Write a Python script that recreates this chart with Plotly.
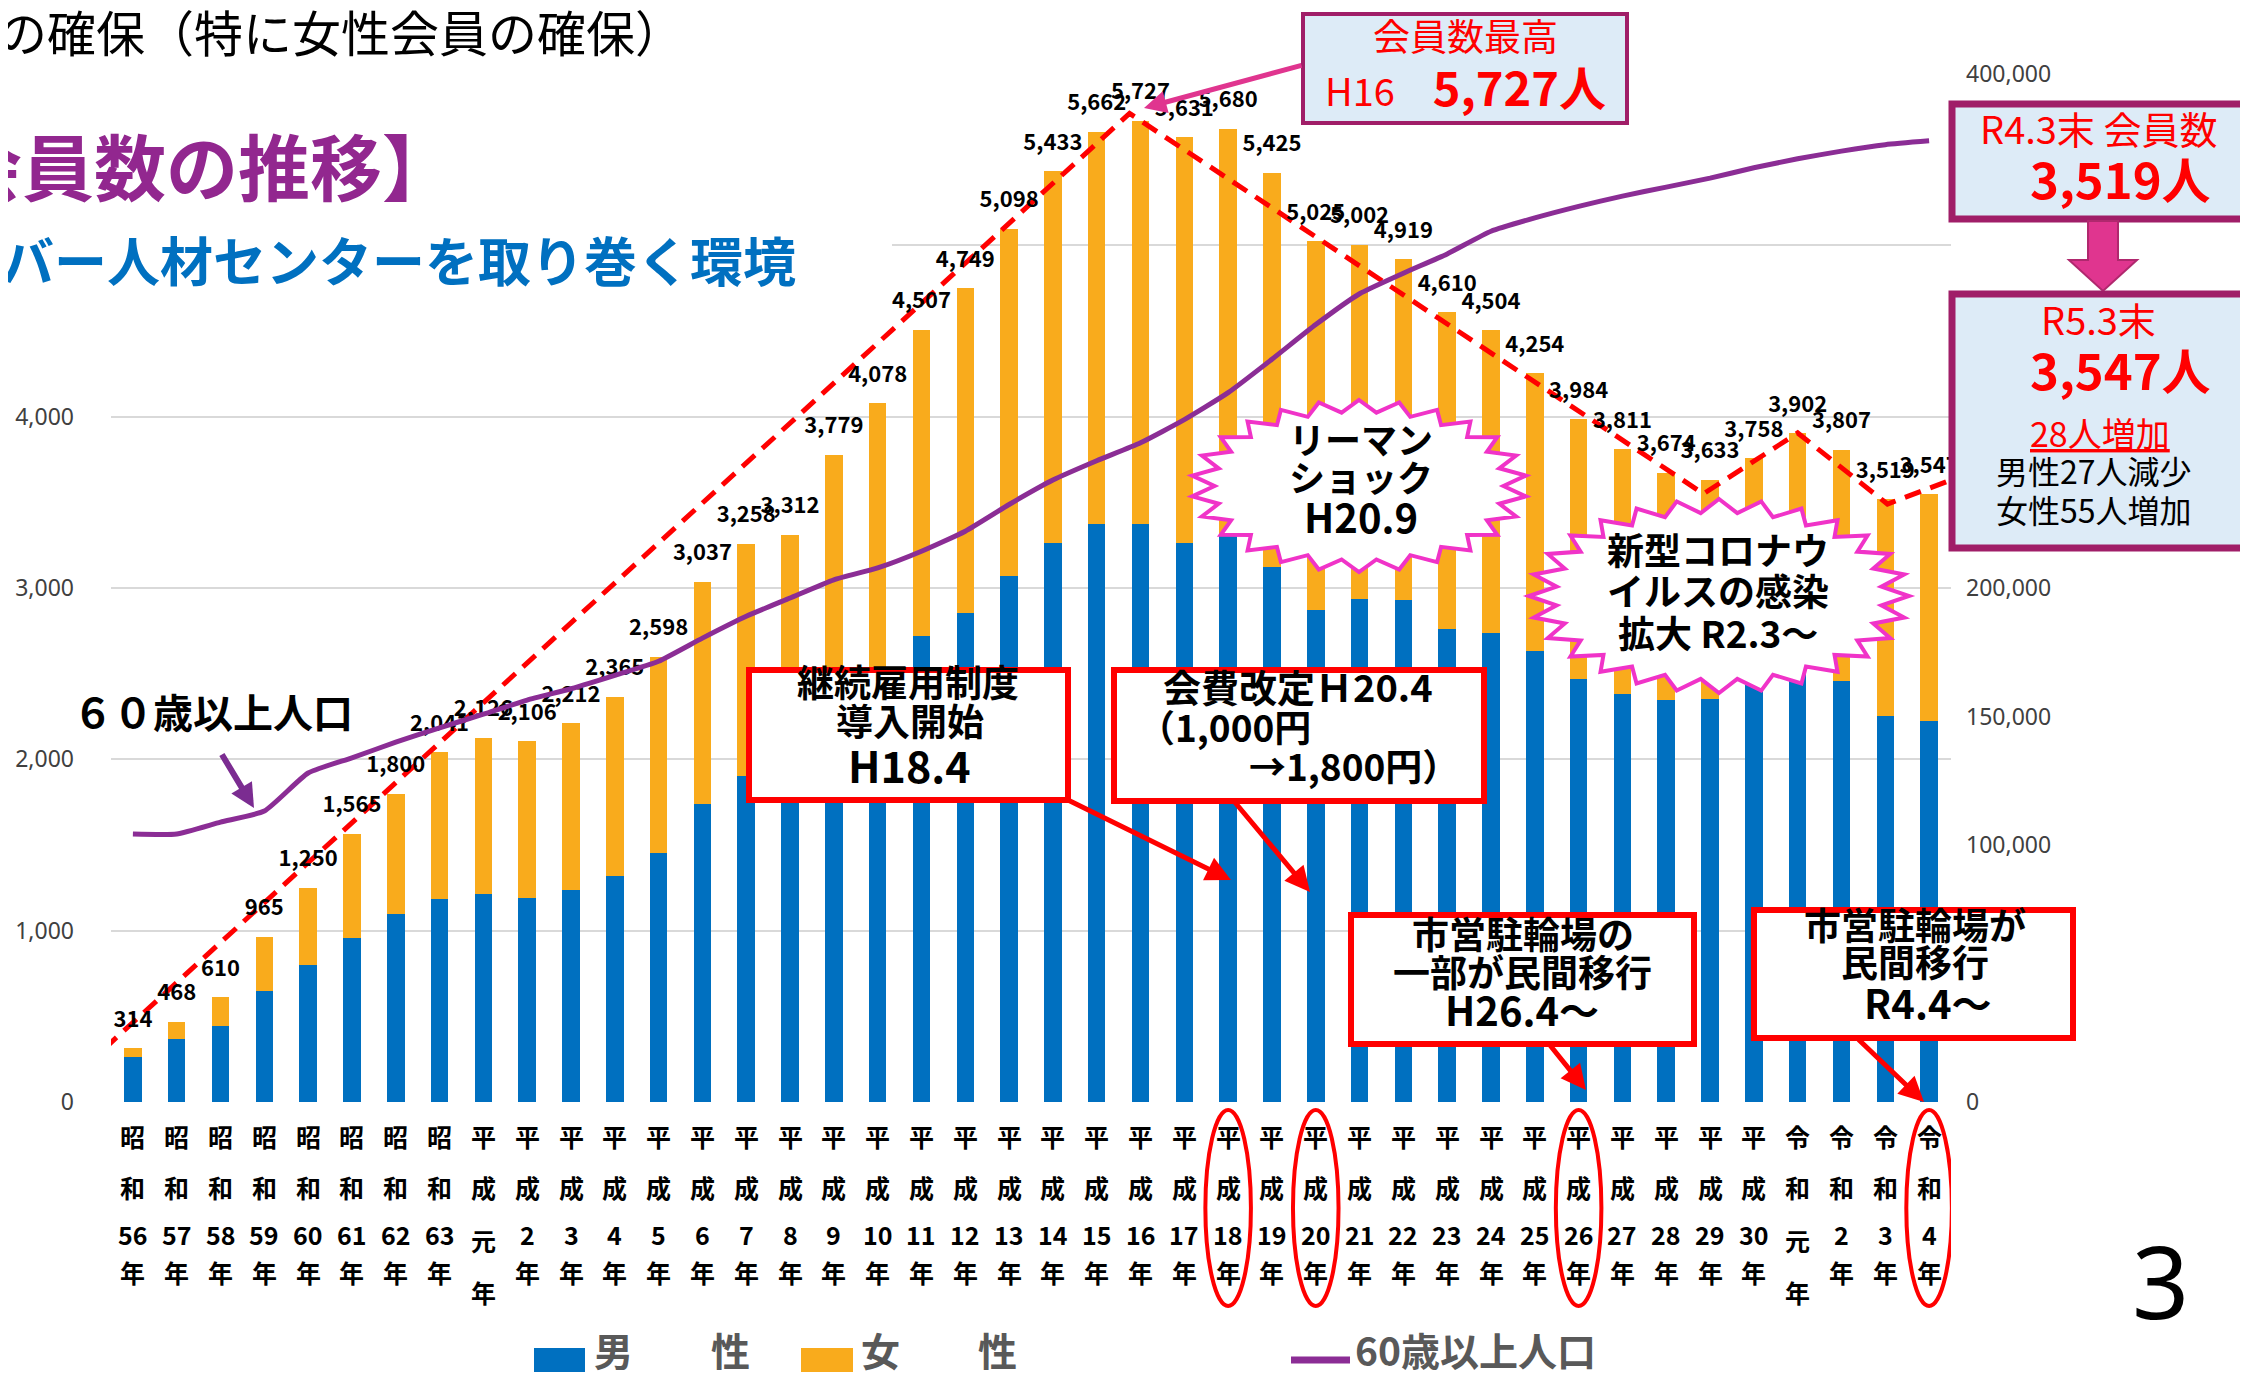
import math
import plotly.graph_objects as go

# ---------------- data ----------------
categories = [
    "昭和56年", "昭和57年", "昭和58年", "昭和59年", "昭和60年", "昭和61年", "昭和62年", "昭和63年",
    "平成元年", "平成2年", "平成3年", "平成4年", "平成5年", "平成6年", "平成7年", "平成8年",
    "平成9年", "平成10年", "平成11年", "平成12年", "平成13年", "平成14年", "平成15年", "平成16年",
    "平成17年", "平成18年", "平成19年", "平成20年", "平成21年", "平成22年", "平成23年", "平成24年",
    "平成25年", "平成26年", "平成27年", "平成28年", "平成29年", "平成30年",
    "令和元年", "令和2年", "令和3年", "令和4年",
]
totals = [314, 468, 610, 965, 1250, 1565, 1800, 2041,
          2126, 2106, 2212, 2365, 2598, 3037, 3258, 3312,
          3779, 4078, 4507, 4749, 5098, 5433, 5662, 5727,
          5631, 5680, 5425, 5025, 5002, 4919, 4610, 4504,
          4254, 3984, 3811, 3674, 3633, 3758,
          3902, 3807, 3519, 3547]
male = [261, 368, 444, 650, 798, 960, 1097, 1185,
        1215, 1188, 1239, 1320, 1454, 1740, 1902, 2000,
        2200, 2400, 2720, 2853, 3069, 3264, 3372, 3372,
        3262, 3302, 3121, 2870, 2935, 2930, 2760, 2738,
        2630, 2468, 2380, 2346, 2351, 2440,
        2520, 2460, 2253, 2226]
female = [53, 100, 166, 315, 452, 605, 703, 856,
          911, 918, 973, 1045, 1144, 1297, 1356, 1312,
          1579, 1678, 1787, 1896, 2029, 2169, 2290, 2355,
          2369, 2378, 2304, 2155, 2067, 1989, 1850, 1766,
          1624, 1516, 1431, 1328, 1282, 1318,
          1382, 1347, 1266, 1321]
pop60 = [104300, 104300, 108900, 113200, 128000, 133900, 140000, 145600,
         150900, 156400, 160800, 166000, 171500, 180500, 189000, 196100,
         203200, 207800, 214300, 222100, 232500, 242000, 249500, 256500,
         265500, 276000, 289000, 302500, 314500, 322500, 330000, 338800,
         344000, 348500, 352500, 356000, 359500, 363500,
         367000, 370000, 372500, 374000]
# red dashed trend polyline (category-index position, members)
trend_x = [-0.66, 22.75, 35.85, 38.0, 40.05, 41.5]
trend_y = [310, 5770, 3550, 3905, 3490, 3630]
circled = ["平成18年", "平成20年", "平成26年", "令和4年"]

# axis ticks (labels hidden in the reference are left blank)
left_tickvals = [0, 1000, 2000, 3000, 4000, 5000, 6000]
left_ticktext = ["0", "1,000", "2,000", "3,000", "4,000", "", ""]
right_tickvals = [0, 50000, 100000, 150000, 200000, 250000, 300000, 350000, 400000]
right_ticktext = ["0", "", "100,000", "150,000", "200,000", "", "", "", "400,000"]

xpos = list(range(len(categories)))

# ---------------- geometry helpers ----------------
W, H = 2248, 1375
ML, MR, MT, MB = 103, 305, 66, 281
PW = W - ML - MR
PH = H - MT - MB


def px(x):
    return (x - ML) / PW


def py(y):
    return (H - MB - y) / PH


JP = "Noto Sans CJK JP"
BLUE = "#0070C0"
ORANGE = "#F9AB1C"
PURPLE = "#8B2D95"
RED = "#FF0000"
MAG = "#A01E68"
PINK = "#F033C8"
BOXFILL = "#DDEBF7"

fig = go.Figure()
fig.add_trace(go.Bar(x=xpos, y=male, name="男　　性", width=0.4,
                     marker=dict(color=BLUE, line=dict(width=0))))
fig.add_trace(go.Bar(x=xpos, y=female, name="女　　性", width=0.4,
                     marker=dict(color=ORANGE, line=dict(width=0))))
fig.add_trace(go.Scatter(x=xpos, y=pop60, yaxis="y2", mode="lines", name="60歳以上人口",
                         line=dict(color=PURPLE, width=5, shape="spline", smoothing=0.5)))
fig.add_trace(go.Scatter(x=trend_x, y=trend_y, mode="lines", cliponaxis=False,
                         line=dict(color=RED, width=5, dash="17px,10px")))
fig.add_trace(go.Scatter(x=xpos, y=totals, mode="markers+text", cliponaxis=False,
                         marker=dict(size=24, opacity=0),
                         text=[f"{v:,}" for v in totals], textposition="top center",
                         textfont=dict(family=JP, size=22, color="black", weight="bold")))

annos = []
shapes = []


def lift(size):
    # CJK glyphs sit low in plotly's text box; lift them to centre on y
    return 6 + 0.12 * size


def T(x, y, s, size, color="black", bold=False, xa="center", ya="middle", family=JP, **fk):
    annos.append(dict(x=px(x), y=py(y - lift(size)), xref="paper", yref="paper", text=s,
                      showarrow=False, xanchor=xa, yanchor=ya,
                      font=dict(family=family, size=size, color=color,
                                weight="bold" if bold else "normal", **fk)))


def rect(x0, y0, x1, y1, fill, line=None, lw=0):
    shapes.append(dict(type="rect", xref="paper", yref="paper",
                       x0=px(x0), x1=px(x1), y0=py(y1), y1=py(y0),
                       fillcolor=fill, line=dict(color=line or fill, width=lw), layer="above"))


def arrow(xt, yt, xh, yh, color, width, head=2, size=1.0):
    annos.append(dict(x=px(xh), y=py(yh), xref="paper", yref="paper",
                      ax=xt - xh, ay=yt - yh, text="", showarrow=True,
                      arrowhead=head, arrowsize=size, arrowwidth=width,
                      arrowcolor=color, standoff=0, startstandoff=0))


def burst(cx, cy, rx, ry, n, inner=0.86):
    pts = []
    for k in range(2 * n):
        a = math.pi * k / n - math.pi / 2
        r = 1.0 if k % 2 == 0 else inner
        pts.append((px(cx + rx * r * math.cos(a)), py(cy + ry * r * math.sin(a))))
    path = "M " + " L ".join(f"{x:.5f},{y:.5f}" for x, y in pts) + " Z"
    shapes.append(dict(type="path", xref="paper", yref="paper", path=path,
                       fillcolor="white", line=dict(color=PINK, width=4), layer="above"))


# white cover behind the slide titles
rect(-5, -5, 850, 150, "white")
rect(-5, 150, 884, 295, "white")

# slide titles
T(-12, 34, "の確保（特に女性会員の確保）", 49, xa="left")
T(448, 170, "【会員数の推移】", 72, color="#92278F", bold=True, xa="right")
T(790, 263, "シルバー人材センターを取り巻く環境", 53, color=BLUE, bold=True, xa="right")

# x tick labels (stacked characters)
for i, lab in enumerate(categories):
    era, num, nen = lab[:2], lab[2:-1], lab[-1]
    rows = [(era[0], 1137), (era[1], 1188)]
    if num == "元":
        rows += [(num, 1241), (nen, 1293)]
    else:
        rows += [(num, 1235), (nen, 1273)]
    for s, yy in rows:
        annos.append(dict(x=i, xref="x", y=py(yy - lift(25)), yref="paper", text=s,
                          showarrow=False, xanchor="center", yanchor="middle",
                          font=dict(family=JP, size=25, color="black", weight="bold")))

for lab in circled:
    i = categories.index(lab)
    shapes.append(dict(type="circle", xref="x", yref="paper", x0=i - 0.52, x1=i + 0.52,
                       y0=py(1298), y1=py(1102), line=dict(color=RED, width=4), layer="above"))

# peak box
rect(1295, 6, 1619, 115, BOXFILL, MAG, 4)
T(1457, 37, "会員数最高", 37, RED)
T(1457, 88, "H16　<b><span style='font-size:47px'>5,727人</span></b>", 38, RED)
arrow(1295, 57, 1136, 100, "#E0358F", 5, head=2, size=0.9)

# R4.3 box
rect(1944, 96, 2239, 211, BOXFILL, MAG, 7)
T(2090, 130, "R4.3末 会員数", 38, RED)
T(2112, 181, "<b>3,519人</b>", 49, RED)

# block arrow
bp = [(2080, 213), (2110, 213), (2110, 252), (2129, 252), (2095, 283), (2061, 252), (2080, 252)]
shapes.append(dict(type="path", xref="paper", yref="paper",
                   path="M " + " L ".join(f"{px(a):.5f},{py(b):.5f}" for a, b in bp) + " Z",
                   fillcolor="#E0358F", line=dict(color="#B0286E", width=2), layer="above"))

# R5.3 box
rect(1944, 286, 2239, 540, BOXFILL, MAG, 7)
T(2090, 321, "R5.3末", 38, RED)
T(2112, 372, "<b>3,547人</b>", 49, RED)
T(2092, 435, "28人増加", 34, RED, lineposition="under")
T(2086, 472, "男性27人減少", 32)
T(2086, 511, "女性55人増加", 32)

# event boxes
rect(741, 662, 1060, 792, "white", RED, 6)
T(900, 683, "継続雇用制度", 37, bold=True)
T(902, 722, "導入開始", 37, bold=True)
T(901, 767, "H18.4", 43, bold=True)
arrow(1060, 792, 1223, 872, RED, 5)

rect(1106, 662, 1476, 793, "white", RED, 6)
T(1290, 688, "会費改定Ｈ20.4", 38, bold=True)
T(1128, 728, "（1,000円", 37, bold=True, xa="left")
T(1453, 767, "→1,800円）", 37, bold=True, xa="right")
arrow(1225, 792, 1302, 884, RED, 5)

rect(1343, 907, 1686, 1036, "white", RED, 6)
T(1515, 935, "市営駐輪場の", 37, bold=True)
T(1514, 973, "一部が民間移行", 37, bold=True)
T(1514, 1012, "H26.4～", 40, bold=True)
arrow(1541, 1036, 1578, 1082, RED, 5)

rect(1746, 902, 2065, 1030, "white", RED, 6)
T(1907, 926, "市営駐輪場が", 37, bold=True)
T(1907, 963, "民間移行", 37, bold=True)
T(1919, 1005, "R4.4～", 40, bold=True)
arrow(1849, 1030, 1916, 1094, RED, 5)

# bursts
burst(1351, 478, 168, 86, 26)
T(1353, 440, "リーマン", 36, bold=True)
T(1353, 478, "ショック", 36, bold=True)
T(1353, 519, "H20.9", 40, bold=True)

burst(1711, 588, 190, 97, 28)
T(1710, 551, "新型コロナウ", 37, bold=True)
T(1710, 592, "イルスの感染", 37, bold=True)
T(1710, 634, "拡大 R2.3～", 37, bold=True)

# 60+ label
T(205, 714, "６０歳以上人口", 40, bold=True)
arrow(213, 745, 246, 800, "#7B2C91", 6, head=2, size=0.8)

# legend
rect(526, 1340, 577, 1364, BLUE)
T(584, 1352, "男　　性", 39, "#595959", bold=True, xa="left")
rect(793, 1340, 845, 1364, ORANGE)
T(851, 1352, "女　　性", 39, "#595959", bold=True, xa="left")
shapes.append(dict(type="line", xref="paper", yref="paper", x0=px(1283), x1=px(1342),
                   y0=py(1352), y1=py(1352), line=dict(color=PURPLE, width=7), layer="above"))
T(1345, 1352, "60歳以上人口", 39, "#595959", bold=True, xa="left")

# page number
annos.append(dict(x=px(2152), y=py(1272), xref="paper", yref="paper", text="3",
                  showarrow=False, xanchor="center", yanchor="middle",
                  font=dict(family="Noto Sans", size=100, color="black")))

tickfont = dict(family="Noto Sans", size=23, color="#404040")
fig.update_layout(
    template="none",
    width=W, height=H,
    margin=dict(l=ML, r=MR, t=MT, b=MB, autoexpand=False),
    paper_bgcolor="white", plot_bgcolor="white",
    barmode="stack", showlegend=False,
    xaxis=dict(range=[-0.5, 41.5], showgrid=False, zeroline=False, showticklabels=False,
               showline=False, ticks="", automargin=False),
    yaxis=dict(range=[0, 6000], tickmode="array", tickvals=left_tickvals, ticktext=left_ticktext,
               showgrid=True, gridcolor="#D9D9D9", gridwidth=2, zeroline=False, showline=False,
               ticks="", tickfont=tickfont, ticklabelstandoff=36, automargin=False),
    yaxis2=dict(overlaying="y", side="right", range=[0, 400000], tickmode="array",
                tickvals=right_tickvals, ticktext=right_ticktext,
                showgrid=False, zeroline=False, showline=False, ticks="",
                tickfont=tickfont, ticklabelstandoff=14, automargin=False),
    annotations=annos,
    shapes=shapes,
)

fig.write_html("out.html")
